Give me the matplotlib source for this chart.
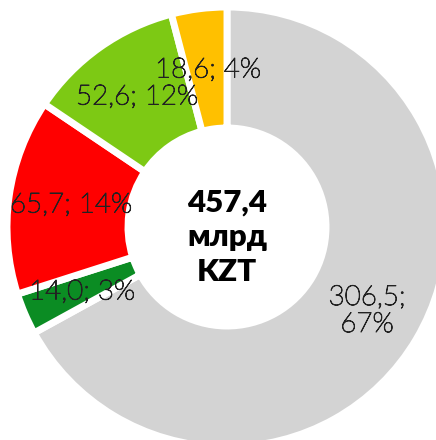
import matplotlib.pyplot as plt
import matplotlib.patheffects as pe

# slices clockwise from 12 o'clock
values = [306.5, 14.0, 65.7, 52.6, 18.6]
shares = [67, 3, 14, 12, 4]
colors = ["#D3D3D3", "#0B8C23", "#FF0000", "#7DC914", "#FFC000"]
total_text = "457,4\nмлрд\nKZT"

W, H = 436, 440
CX, CY = 227, H - 227
R_OUT, R_IN = 220, 99

fig = plt.figure(figsize=(W / 100, H / 100), dpi=100)
ax = fig.add_axes([0, 0, 1, 1])

ax.pie(values, colors=colors, startangle=90, counterclock=False,
       center=(CX, CY), radius=R_OUT, frame=True,
       wedgeprops=dict(width=R_OUT - R_IN, edgecolor="white", linewidth=5))
ax.set_xlim(0, W)
ax.set_ylim(0, H)
ax.set_aspect("equal")
ax.axis("off")

def fmt(v):
    return f"{v:.1f}".replace(".", ",")

labels = [f"{fmt(values[0])};\n{shares[0]}%"] + \
         [f"{fmt(v)}; {s}%" for v, s in zip(values[1:], shares[1:])]
# label centres in pixel coords (x, y from top)
label_pos = [(367, 311), (82, 292), (71, 205), (137, 97), (208, 70)]

# thin Lato face, thickened a little to look like a light weight
thicken = [pe.withStroke(linewidth=0.7, foreground="#222222")]
for txt, (x, y) in zip(labels, label_pos):
    ax.text(x, H - y, txt, ha="center", va="center", fontsize=20,
            family="Lato", fontweight="light", color="#222222",
            linespacing=1.1, path_effects=thicken)

ax.text(CX, H - 237, total_text, ha="center", va="center", fontsize=22.5,
        family="Lato", fontweight="heavy", color="black", linespacing=1.3)

fig.savefig("out.png", dpi=100)
